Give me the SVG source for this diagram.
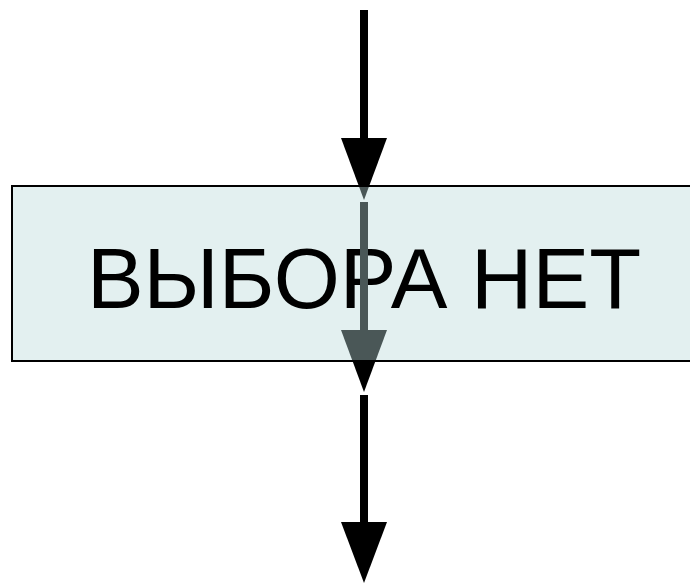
<svg xmlns="http://www.w3.org/2000/svg" xmlns:xlink="http://www.w3.org/1999/xlink" width="690" height="583" viewBox="0 0 690 583">
  <style>
    .box { fill: #e3f0f0; stroke: #000000; stroke-width: 2; }
    .label { font-family: "Liberation Sans", Arial, sans-serif; font-size: 85px; fill: #000000; }
    .wire-out { fill: #000000; }
    .wire-in { fill: #4a5757; }
  </style>
  <defs>
    <!-- arrow shapes: shaft + triangular head -->
    <g id="arrow-shapes">
      <rect x="360" y="10" width="8" height="130"/>
      <polygon points="341,138 387,138 364,200"/>
      <rect x="360" y="202" width="8" height="130"/>
      <polygon points="341,330 387,330 364,392"/>
      <rect x="360" y="395" width="8" height="129"/>
      <polygon points="341,522 387,522 364,583"/>
    </g>
    <clipPath id="inside-box">
      <rect x="12" y="187" width="690" height="173"/>
    </clipPath>
    <clipPath id="outside-box">
      <path d="M0,0 H690 V187 H0 Z M0,360 H690 V583 H0 Z"/>
    </clipPath>
  </defs>

  <g id="node-vybora-net">
    <rect class="box" x="12" y="186" width="690" height="175"/>
    <text class="label" x="364" y="308" text-anchor="middle">ВЫБОРА НЕТ</text>
  </g>

  <g id="connectors">
    <use xlink:href="#arrow-shapes" class="wire-out" clip-path="url(#outside-box)"/>
    <use xlink:href="#arrow-shapes" class="wire-in" clip-path="url(#inside-box)"/>
  </g>
</svg>
